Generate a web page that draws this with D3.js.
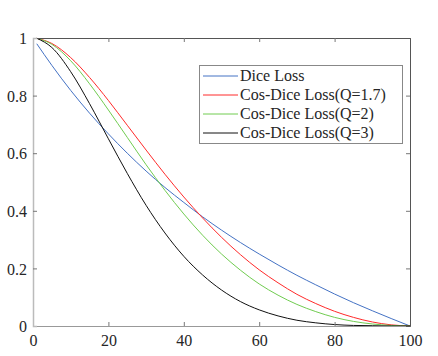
<!DOCTYPE html>
<html>
<head>
<meta charset="utf-8">
<script src="https://cdn.jsdelivr.net/npm/d3@7"></script>
<style>
  html, body { margin: 0; padding: 0; background: #fff; }
  text { font-family: "Liberation Serif", "Times New Roman", serif; fill: #262626; }
</style>
</head>
<body>
<svg id="chart" width="438" height="356"></svg>
<script>
// ---- data ----
const xValues = [1, 5, 10, 15, 20, 25, 30, 35, 40, 45, 50, 55, 60, 65, 70, 75, 80, 85, 90, 95, 100];
const diceLoss = [0.980, 0.905, 0.818, 0.739, 0.667, 0.600, 0.538, 0.481, 0.429, 0.379, 0.333, 0.290, 0.250, 0.212, 0.176, 0.143, 0.111, 0.081, 0.053, 0.026, 0];
const cosDiceQ17 = [0.999, 0.981, 0.932, 0.863, 0.783, 0.697, 0.611, 0.527, 0.448, 0.375, 0.308, 0.248, 0.195, 0.150, 0.110, 0.078, 0.051, 0.030, 0.014, 0.004, 0];
const cosDiceQ2 = [0.999, 0.978, 0.921, 0.841, 0.750, 0.655, 0.560, 0.471, 0.389, 0.315, 0.250, 0.194, 0.146, 0.107, 0.075, 0.050, 0.030, 0.016, 0.007, 0.002, 0];
const cosDiceQ3 = [0.999, 0.967, 0.883, 0.772, 0.650, 0.530, 0.419, 0.323, 0.242, 0.177, 0.125, 0.085, 0.056, 0.035, 0.020, 0.011, 0.005, 0.002, 0.001, 0.000, 0];
const seriesNames = ["Dice Loss", "Cos-Dice Loss(Q=1.7)", "Cos-Dice Loss(Q=2)", "Cos-Dice Loss(Q=3)"];
const seriesColors = ["#4472c4", "#ff2a2a", "#70cc50", "#111111"];
const xTicks = [0, 20, 40, 60, 80, 100];
const yTicks = [0, 0.2, 0.4, 0.6, 0.8, 1];

const allSeries = [diceLoss, cosDiceQ17, cosDiceQ2, cosDiceQ3];

// ---- layout ----
const svg = d3.select("#chart");
const pLeft = 33, pRight = 410, pTop = 38, pBottom = 326;
const x = d3.scaleLinear().domain([0, 100]).range([pLeft, pRight]);
const y = d3.scaleLinear().domain([0, 1]).range([pBottom, pTop]);

// lines
const line = d3.line()
  .x((d, i) => x(xValues[i]))
  .y(d => y(d))
  .curve(d3.curveMonotoneX);

const plot = svg.append("g");
allSeries.forEach((s, k) => {
  plot.append("path")
    .datum(s)
    .attr("d", line)
    .attr("fill", "none")
    .attr("stroke", seriesColors[k])
    .attr("stroke-width", 1);
});

// axes (box with inward ticks on all sides)
const tickLen = 4;
const fmt = d => d3.format("~g")(d);

const axB = svg.append("g").attr("transform", `translate(0,${pBottom})`)
  .call(d3.axisBottom(x).tickValues(xTicks).tickSize(-tickLen).tickPadding(9).tickFormat(fmt));
const axT = svg.append("g").attr("transform", `translate(0,${pTop})`)
  .call(d3.axisTop(x).tickValues(xTicks).tickSize(-tickLen).tickFormat(""));
const axL = svg.append("g").attr("transform", `translate(${pLeft},0)`)
  .call(d3.axisLeft(y).tickValues(yTicks).tickSize(-tickLen).tickPadding(6).tickFormat(fmt));
const axR = svg.append("g").attr("transform", `translate(${pRight},0)`)
  .call(d3.axisRight(y).tickValues(yTicks).tickSize(-tickLen).tickFormat(""));

[axB, axT, axL, axR].forEach(a => {
  a.selectAll("text").style("font-size", "16px").style("font-family", '"Liberation Serif", serif').attr("fill", "#262626");
  a.selectAll(".tick line").attr("stroke", "#777");
});
axB.select(".domain").attr("stroke", "#999");
axL.select(".domain").attr("stroke", "#bbb").attr("stroke-width", 1.5);
axT.select(".domain").attr("stroke", "#555");
axR.select(".domain").attr("stroke", "#555");
axL.selectAll(".tick text").attr("dy", "0.35em");
[axB, axT].forEach(a => a.selectAll(".tick line").filter(d => d === 0 || d === 100).remove());
[axL, axR].forEach(a => a.selectAll(".tick line").filter(d => d === 0 || d === 1).remove());

// legend
const lg = svg.append("g");
const lx0 = 199, ly0 = 65, lw = 203, lh = 78;
lg.append("rect").attr("x", lx0 + 0.5).attr("y", ly0 + 0.5).attr("width", lw).attr("height", lh)
  .attr("fill", "#fff").attr("stroke", "#888").attr("stroke-width", 1);
const rowY = [76, 95, 114, 133];
seriesNames.forEach((name, k) => {
  lg.append("line").attr("x1", 203).attr("x2", 238).attr("y1", rowY[k]).attr("y2", rowY[k])
    .attr("stroke", seriesColors[k]).attr("stroke-width", 1);
  lg.append("text").attr("x", 240).attr("y", rowY[k]).attr("dy", "0.33em")
    .style("font-size", "16px").text(name);
});
</script>
</body>
</html>
